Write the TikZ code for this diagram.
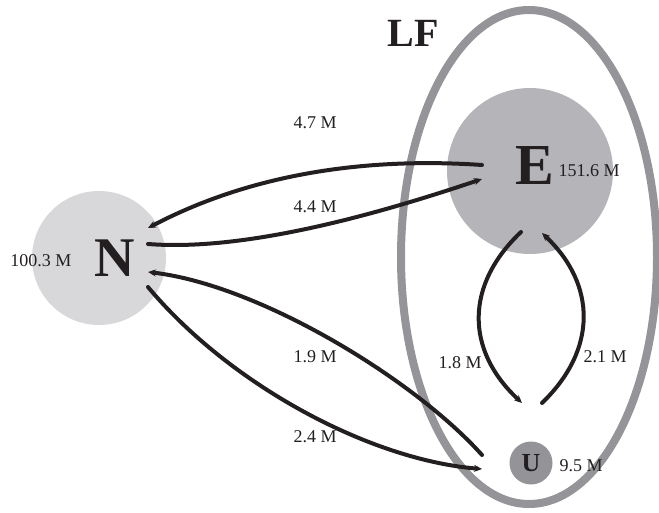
\documentclass[tikz,border=0pt]{standalone}
\usepackage{fontspec}
\setmainfont{Liberation Serif}
\usetikzlibrary{arrows.meta}
\definecolor{nfill}{RGB}{216,216,218}
\definecolor{efill}{RGB}{181,181,185}
\definecolor{ufill}{RGB}{148,148,152}
\definecolor{lfline}{RGB}{148,148,153}
\definecolor{ink}{RGB}{35,31,32}
\tikzset{
  flow/.style={draw=ink, line width=4pt, line cap=round, -{Stealth[length=8pt,width=7pt]}},
  val/.style={text=ink, font=\fontsize{18}{18}\selectfont, inner sep=0pt},
  big/.style={text=ink, inner sep=0pt}
}
\begin{document}
\begin{tikzpicture}[x=1pt,y=-1pt]
\useasboundingbox (0,0) rectangle (659,513);
% LF ellipse
\draw[lfline, line width=8pt] (529,257) ellipse [x radius=128, y radius=247];
\node[big, font=\fontsize{40}{40}\selectfont\bfseries] (LF) at (413,33) {LF};
% circles
\fill[nfill] (99,258) circle (67);
\fill[efill] (530,171) circle (83);
\fill[ufill] (531,463) circle (21.5);
\node[big, font=\fontsize{56}{56}\selectfont\bfseries] (N) at (115,258) {N};
\node[big, font=\fontsize{58}{58}\selectfont\bfseries] (E) at (535,166) {E};
\node[big, font=\fontsize{26}{26}\selectfont\bfseries] (U) at (531,463) {U};
\node[val] (Nv) at (41,261) {100.3 M};
\node[val] (Ev) at (589,171) {151.6 M};
\node[val] (Uv) at (581,466) {9.5 M};
% endpoints
\coordinate (e1) at (482,165);
\coordinate (e2) at (482,179);
\coordinate (e3) at (521,232);
\coordinate (e4) at (542,233);
\coordinate (n1) at (148,228);
\coordinate (n2) at (148,244);
\coordinate (n3) at (148,272);
\coordinate (n4) at (148,287);
\coordinate (u1) at (482,455);
\coordinate (u2) at (482,469);
\coordinate (u3) at (522,403);
\coordinate (u4) at (542,403);
% flows
\draw[flow] (e1) .. controls (380,158) and (260,169) .. (n1);
\draw[flow] (n2) .. controls (250,252) and (390,210) .. (e2);
\draw[flow] (u1) .. controls (415,380) and (260,285) .. (n3);
\draw[flow] (n4) .. controls (230,385) and (370,460) .. (u2);
\draw[flow] (e3) .. controls (465,285) and (465,350) .. (u3);
\draw[flow] (u4) .. controls (597,350) and (597,285) .. (e4);
% labels
\node[val] (l47) at (315,123) {4.7 M};
\node[val] (l44) at (315,207) {4.4 M};
\node[val] (l19) at (315,357) {1.9 M};
\node[val] (l24) at (315,437) {2.4 M};
\node[val] (l18) at (460,363) {1.8 M};
\node[val] (l21) at (605,357) {2.1 M};
\end{tikzpicture}
\end{document}
